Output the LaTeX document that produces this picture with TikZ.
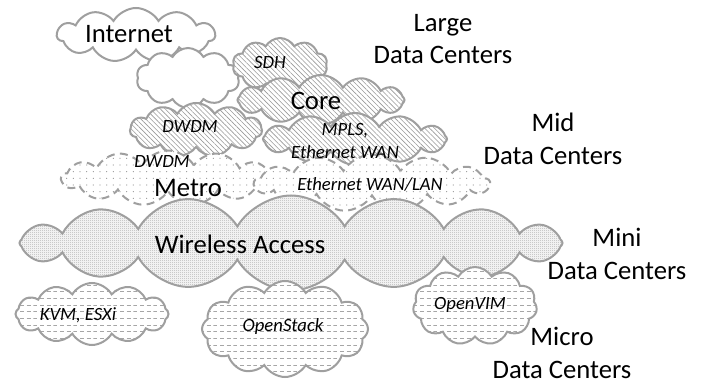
\documentclass[tikz,border=0pt]{standalone}
\usepackage{fontspec}
\setmainfont{Carlito}
\usetikzlibrary{shapes.symbols,patterns,patterns.meta}

\tikzdeclarepattern{
  name=dashrows,
  type=uncolored,
  bounding box={(0pt,-0.3pt) and (5pt,0.3pt)},
  tile size={(5pt,5pt)},
  code={\draw[line width=0.5pt] (0pt,0pt) -- (3pt,0pt);}
}
\tikzdeclarepattern{
  name=checker,
  type=uncolored,
  bounding box={(0pt,0pt) and (1.5pt,1.5pt)},
  tile size={(1.5pt,1.5pt)},
  code={\fill (0pt,0pt) rectangle (0.75pt,0.75pt);
        \fill (0.75pt,0.75pt) rectangle (1.5pt,1.5pt);}
}

\tikzset{
  cloudbase/.style={cloud, draw=gray!75, line width=1.5pt, inner sep=0pt,
    cloud puff arc=120},
  plain/.style={cloudbase, fill=white},
  hatched/.style={cloudbase, preaction={fill=white},
    pattern={Lines[angle=-45,distance=2.6pt,line width=0.45pt]}, pattern color=gray!80},
  dotted cloud/.style={cloudbase, dash pattern=on 6pt off 4pt, preaction={fill=white},
    pattern={Dots[distance=5pt,radius=0.45pt]}, pattern color=gray!80},
  access/.style={cloudbase, preaction={fill=white}, pattern=checker, pattern color=gray!85},
  micro/.style={cloudbase, preaction={fill=white}, pattern=dashrows, pattern color=gray!70},
  size/.style 2 args={minimum width=#1*0.75pt, minimum height=#2*0.75pt},
  big/.style={font=\fontsize{20}{24.5}\selectfont, align=center, inner sep=0pt},
  small/.style={font=\fontsize{14}{16.8}\selectfont\itshape, align=center, inner sep=0pt}
}

\begin{document}
\begin{tikzpicture}[x=0.75pt, y=-0.75pt]
  \useasboundingbox (0,0) rectangle (708,385);

  \node[plain, cloud puffs=11, aspect=2.9, size={158}{54}] (internet) at (136,35) {};
  \node[plain, cloud puffs=10, aspect=1.7, size={103}{60}] (cloudtwo) at (188,78) {};
  \node[hatched, cloud puffs=10, aspect=1.76, size={95}{54}] (sdh) at (280,65) {};
  \node[hatched, cloud puffs=12, aspect=3.3, size={167}{50}] (core) at (321,100) {};
  \node[hatched, cloud puffs=11, aspect=2.4, size={132}{54}] (dwdm) at (196,130) {};
  \node[hatched, cloud puffs=12, aspect=3.5, size={184}{52}] (mpls) at (355,139) {};
  \node[dotted cloud, cloud puffs=13, aspect=3.9, size={213}{55}] (metro) at (168,178) {};
  \node[dotted cloud, cloud puffs=13, aspect=4.1, size={235}{57}] (ethernet) at (372,183) {};
  \node[access, cloud puffs=16, aspect=5.7, size={543}{95}] (wireless) at (291,243) {};
  \node[micro, cloud puffs=12, aspect=2.5, size={153}{62}] (kvm) at (92,314) {};
  \node[micro, cloud puffs=12, aspect=1.7, size={166}{96}] (openstack) at (285,329) {};
  \node[micro, cloud puffs=11, aspect=1.6, size={124}{78}] (openvim) at (475,306) {};

  \node[big] (internettext) at (129,34) {Internet};
  \node[small] (sdhtext) at (270,63) {SDH};
  \node[big] (coretext) at (316,101) {Core};
  \node[small] (dwdmtext) at (190,127) {DWDM};
  \node[small] (mplstext) at (345,141) {MPLS,\\Ethernet WAN};
  \node[small] (metrodwdm) at (162,162) {DWDM};
  \node[big] (metrotext) at (188,188) {Metro};
  \node[small] (ethernettext) at (370,184) {Ethernet WAN/LAN};
  \node[big] (wirelesstext) at (240,244) {Wireless Access};
  \node[small] (kvmtext) at (78,315) {KVM, ESXi};
  \node[small] (openstacktext) at (283,327) {OpenStack};
  \node[small] (openvimtext) at (470,305) {OpenVIM};

  \node[big] (large) at (443,39) {Large\\Data Centers};
  \node[big] (mid) at (553,139) {Mid\\Data Centers};
  \node[big] (mini) at (617,254) {Mini\\Data Centers};
  \node[big] (micro) at (562,353) {Micro\\Data Centers};
\end{tikzpicture}
\end{document}
